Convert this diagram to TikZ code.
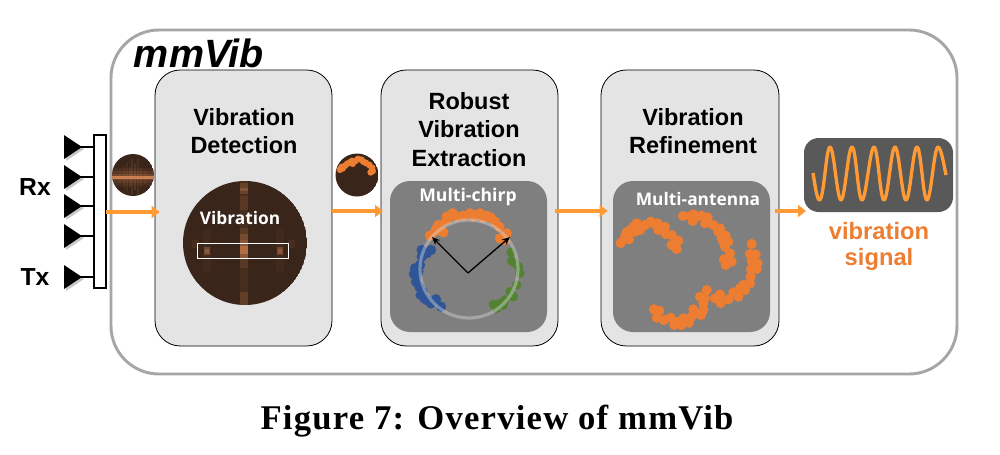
\documentclass[tikz,border=0pt]{standalone}
\usepackage{fontspec}
\setmainfont{Liberation Sans}
\newfontfamily\capfont[LetterSpace=3.5]{Liberation Serif}
\newfontfamily\panelfont{Open Sans}
\usetikzlibrary{arrows.meta,calc}
\definecolor{pblock}{HTML}{E4E4E4}
\definecolor{ppanel}{HTML}{7F7F7F}
\definecolor{pdark}{HTML}{595959}
\definecolor{pbrown}{HTML}{39251A}
\definecolor{porange}{HTML}{ED7D31}
\definecolor{parrow}{HTML}{FF9A35}
\definecolor{pblue}{HTML}{2F5597}
\definecolor{pgreen}{HTML}{548235}
\definecolor{pspec}{HTML}{E08C58}
\newlength{\pxu}\setlength{\pxu}{0.75pt}
\tikzset{
 x=0.75pt,y=-0.75pt,
 pxbox/.style n args={2}{minimum width=#1*\pxu,minimum height=#2*\pxu,inner sep=0pt,outer sep=0pt},
 blockbox/.style={rectangle,rounded corners=19pt,draw=black,line width=0.6pt,fill=pblock},
 panelbox/.style={rectangle,rounded corners=15pt,fill=ppanel},
 title/.style={font=\fontsize{17.6}{21}\selectfont\bfseries,align=center,inner sep=0pt},
 paneltext/.style={font=\panelfont\fontsize{13}{15}\selectfont\bfseries,text=white,inner sep=0pt},
 flow/.style={draw=parrow,line width=2.3pt,-{Triangle[length=6pt,width=9pt,fill=parrow]}},
 feed/.style={draw=black,line width=1.5pt},
 antenna/.style={fill=black},
 ashadow/.style={fill=black!35,opacity=.6},
}
\newcommand{\scat}[5]{\foreach \a/\b in {#5}{\fill[#1] (#2+\a/3,#3+\b/3) circle[radius=#4];}}
\begin{document}
\begin{tikzpicture}
\useasboundingbox (0,0) rectangle (1000,454);
\fill[white] (0,0) rectangle (1000,454);
% system frame
\node[rectangle,rounded corners=36pt,draw=black!35,line width=2.2pt,pxbox={846}{344}] (frame) at (534,202) {};
\node[inner sep=0pt,font=\fontsize{29.6}{33}\selectfont\bfseries\itshape] (mmvib) at (199,53) {mmVib};
% blocks
\node[blockbox,pxbox={177}{276}] (det) at (243.5,208) {};
\node[blockbox,pxbox={177}{276}] (ext) at (469.5,208) {};
\node[blockbox,pxbox={178}{276}] (ref) at (690,208) {};
\node[title] (dett1) at (244,117) {Vibration};
\node[title] (dett2) at (244,145) {Detection};
\node[title] (extt1) at (469,101) {Robust};
\node[title] (extt2) at (469,129) {Vibration};
\node[title] (extt3) at (469,158) {Extraction};
\node[title] (reft1) at (693,117) {Vibration};
\node[title] (reft2) at (693,145) {Refinement};
% antennas
\node[rectangle,draw=black,line width=0.9pt,fill=white,pxbox={12}{153}] (bar) at (100,211.5) {};
\foreach \n/\yy in {a/147,b/177,c/206,d/236,e/277}{
 \fill[ashadow] (66,\yy-10) -- (84,\yy+2) -- (66,\yy+14) -- cycle;
 \fill[antenna] (64,\yy-12) -- (82,\yy) -- (64,\yy+12) -- cycle;
 \coordinate (ant\n) at (80,\yy);
 \draw[feed] (ant\n) -- (ant\n -| bar.west);
}
\node[inner sep=0pt,font=\fontsize{18.5}{22}\selectfont\bfseries] (rx) at (35,187) {Rx};
\node[inner sep=0pt,font=\fontsize{18.5}{22}\selectfont\bfseries] (tx) at (35,277) {Tx};
% small spectrogram
\begin{scope}
\clip (133,175) circle[radius=21];
\fill[pbrown] (133,175) circle[radius=21];
\foreach \hh/\oo in {9/.08,6/.12,3/.18}{
 \fill[pspec,opacity=\oo] (112,177-\hh) rectangle (154,177+\hh);
}
\foreach \xo/\hh/\oo in {-13/7/.08,-9/11/.10,-6/14/.10,-3/10/.12,-1/18/.12,2/13/.14,5/18/.1,8/10/.1,12/7/.08}{
 \fill[pspec,opacity=\oo] (133+\xo-1,177-\hh) rectangle (133+\xo+1,177+\hh);
}
\fill[pspec,opacity=.8] (112,176) rectangle (154,178.5);
\end{scope}
% small scatter
\begin{scope}
\clip (357,175) circle[radius=21.5];
\fill[pbrown] (357,175) circle[radius=21.5];
\scat{porange}{330}{145}{3.4}{30/74,38/70,45/62,52/56,60/52,68/56,76/48,84/42,94/44,100/50,108/54,118/60,126/68,128/78,122/82,35/66,66/48}
\end{scope}
% large spectrogram
\begin{scope}
\clip (245,243) circle[radius=62];
\fill[pbrown] (245,243) circle[radius=62];
\fill[pspec,opacity=.08] (240,180) rectangle (248,306);
\foreach \ya/\yb/\oo in {183/194/.22,188/191/.25,196/210/.12,228/240/.15,234/240/.2,240/258/.45,246/254/.45,258/268/.12,292/305/.18}{
 \fill[pspec,opacity=\oo] (240,\ya) rectangle (248,\yb);
}
\foreach \xc in {207,280}{
 \fill[pspec,opacity=.05] (\xc-4,230) rectangle (\xc+4,272);
 \fill[pspec,opacity=.3] (\xc-3,247) rectangle (\xc+3,255);
 \fill[pspec,opacity=.25] (\xc-2,249) rectangle (\xc+2,253);
}
\fill[pspec,opacity=.08] (192,240) rectangle (199,248);
\fill[pspec,opacity=.08] (288,240) rectangle (295,248);
\end{scope}
\node[paneltext] (vibl) at (240,218) {Vibration};
\node[rectangle,draw=white,line width=0.6pt,pxbox={91}{15}] (vibrect) at (242.5,250.5) {};
% multi-chirp panel
\node[panelbox,pxbox={157}{151}] (chirp) at (468.5,256.5) {};
\node[paneltext,font=\panelfont\fontsize{13.2}{15}\selectfont\bfseries] (chirpl) at (468,197) {Multi-chirp};
\scat{porange}{330}{145}{5.2}{300/272,316/258,325/240,340/262,330/240,350/215,368/205,360/212,400/212,420/205,440/210,450/205,460/218,482/218,495/230,508/245,510/280,530/265,525/285,430/215,380/215,320/250,470/212,350/225}
\scat{pblue}{330}{145}{5.2}{275/315,303/315,290/325,275/335,270/360,255/370,252/387,258/410,268/425,272/450,283/460,303/475,318/463,333/485,260/390,265/380,290/465,278/440}
\scat{pgreen}{330}{145}{4.8}{543/322,545/348,565/365,570/385,560/420,540/440,550/455,525/465,520/480,490/478,500/490,555/355,510/475}
\draw[black!12,opacity=.4,line width=2.4pt] (469,269) circle[radius=49];
\coordinate (cen) at (468,273);
\coordinate (rad1) at (432,237);
\coordinate (rad2) at (510,237);
\draw[black,line width=1pt,-{Stealth[length=6pt,width=5pt]}] (cen) -- (rad1);
\draw[black,line width=1pt,-{Stealth[length=6pt,width=5pt]}] (cen) -- (rad2);
% multi-antenna panel
\node[panelbox,pxbox={157}{151}] (multi) at (691.5,256.5) {};
\node[paneltext] (multil) at (698,199) {Multi-antenna};
\scat{porange}{605}{175}{5.1}{47/204,60/185,72/193,65/172,85/155,95/145,90/170,105/165,120/150,137/140,158/145,160/165,180/155,182/177,200/180,220/197,200/210,215/222,234/123,258/122,265/118,263/138,290/122,308/127,300/145,325/150,345/160,350/178,362/182,370/200,350/190,360/215,375/235,357/253,380/260,362/270,440/207,435/237,452/238,440/258,458/265,455/282,438/283,437/305,435/325,415/330,405/340,420/345,385/352,400/365,370/373,345/358,330/370,347/384,305/345,285/365,300/370,295/385,265/403,295/405,288/420,270/415,260/425,252/443,230/450,235/430,208/450,197/428,177/435,155/428,147/403,163/407,220/440,75/165,145/145,275/125,340/170,355/200,445/250,415/345}
% output
\node[rectangle,rounded corners=11pt,fill=pdark,pxbox={149}{74}] (sig) at (878.5,175) {};
\draw[parrow,line width=2.5pt,line join=round]
 (813,173) .. controls (815,185) and (817,200) .. (819.5,200)
 .. controls (824,200) and (826,147) .. (830,147)
 .. controls (834,147) and (837,200) .. (841,200)
 .. controls (845,200) and (848,147) .. (852,147)
 .. controls (856,147) and (858,200) .. (862,200)
 .. controls (866,200) and (870,147) .. (874,147)
 .. controls (878,147) and (880,200) .. (884,200)
 .. controls (888,200) and (891,147) .. (895,147)
 .. controls (899,147) and (902,200) .. (906,200)
 .. controls (910,200) and (913,147) .. (917,147)
 .. controls (921,147) and (923,200) .. (927,200)
 .. controls (931,200) and (934,147) .. (938,147)
 .. controls (941,147) and (944,165) .. (946,175);
\node[title,text=porange,font=\fontsize{17.8}{21}\selectfont\bfseries] (outl1) at (879,231) {vibration};
\node[title,text=porange,font=\fontsize{17.8}{21}\selectfont\bfseries] (outl2) at (879,259) {signal};
% connectors
\draw[flow,shorten >=-3.5pt] (bar.east |- 0,212) -- (det.west |- 0,212);
\draw[flow,shorten >=-1.5pt] (det.east |- 0,211) -- (ext.west |- 0,211);
\draw[flow,shorten <=-2.5pt,shorten >=-5pt] (ext.east |- 0,211) -- (ref.west |- 0,211);
\draw[flow,shorten <=-3pt,shorten >=-1.5pt] (ref.east |- 0,211) -- (sig.west |- 0,211);
% caption
\node[inner sep=0pt,font=\capfont\fontsize{26}{30}\selectfont\bfseries] (cap) at (497,421) {Figure 7: Overview of mmVib};
\end{tikzpicture}
\end{document}
